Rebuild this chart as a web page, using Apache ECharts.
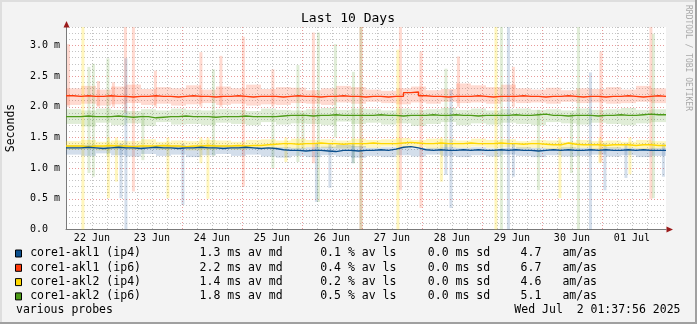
<!DOCTYPE html>
<html>
<head>
<meta charset="utf-8">
<script src="https://cdn.jsdelivr.net/npm/echarts@6.0.0/dist/echarts.min.js"></script>
<style>
  html, body { margin: 0; padding: 0; background: #f3f3f3; }
  #chart { width: 697px; height: 324px; }
</style>
</head>
<body>
<div id="chart"></div>
<script>
// Time axis in hours since 22 Jun 00:00; the window covers the last 10 days.
const START_H = 1.63;
const END_H = 241.63;
const MED_STEP_H = 3;    // median samples every 3 hours
const SMOKE_STEP_H = 6;  // smoke envelope every 6 hours

const dayLabels = ['22 Jun', '23 Jun', '24 Jun', '25 Jun', '26 Jun', '27 Jun', '28 Jun', '29 Jun', '30 Jun', '01 Jul'];
const yTickValues = [0, 0.5, 1.0, 1.5, 2.0, 2.5, 3.0];
const yTickLabels = ['0.0  ', '0.5 m', '1.0 m', '1.5 m', '2.0 m', '2.5 m', '3.0 m'];

const targets = ['core1-akl1 (ip4)', 'core1-akl1 (ip6)', 'core1-akl2 (ip4)', 'core1-akl2 (ip6)'];
const avgMedian = [1.3, 2.2, 1.4, 1.8];
const avgLoss = [0.1, 0.4, 0.2, 0.5];
const avgSd = [0.0, 0.0, 0.0, 0.0];
const amas = [4.7, 6.7, 4.6, 5.1];

// Median RTT (ms), one value per 3-hour step
const akl1v4Med = [
  1.33,1.33,1.34,1.33,1.32,1.33,1.34,1.33,1.33,1.32,
  1.33,1.34,1.33,1.33,1.32,1.33,1.33,1.34,1.33,1.33,
  1.32,1.33,1.33,1.34,1.33,1.32,1.33,1.32,1.30,1.29,
  1.29,1.28,1.29,1.29,1.28,1.27,1.29,1.29,1.28,1.29,
  1.29,1.30,1.29,1.31,1.34,1.35,1.33,1.30,1.29,1.30,
  1.29,1.29,1.30,1.29,1.30,1.29,1.29,1.30,1.29,1.30,
  1.29,1.29,1.28,1.29,1.30,1.29,1.30,1.29,1.29,1.30,
  1.29,1.30,1.29,1.29,1.30,1.29,1.30,1.29,1.29,1.29
];
const akl1v6Med = [
  2.18,2.17,2.18,2.17,2.17,2.18,2.17,2.17,2.16,2.17,
  2.17,2.18,2.17,2.17,2.16,2.17,2.18,2.17,2.17,2.16,
  2.17,2.17,2.18,2.17,2.16,2.17,2.17,2.17,2.16,2.17,
  2.18,2.17,2.17,2.16,2.17,2.17,2.18,2.17,2.17,2.16,
  2.17,2.17,2.16,2.17,2.17,2.23,2.24,2.18,2.17,2.17,
  2.16,2.17,2.17,2.17,2.18,2.17,2.16,2.17,2.17,2.17,
  2.18,2.17,2.17,2.16,2.17,2.17,2.18,2.17,2.16,2.17,
  2.17,2.16,2.17,2.17,2.18,2.17,2.16,2.17,2.18,2.17
];
const akl2v4Med = [
  1.36,1.36,1.35,1.36,1.36,1.37,1.36,1.36,1.35,1.36,
  1.36,1.36,1.37,1.36,1.36,1.35,1.36,1.36,1.37,1.36,
  1.36,1.36,1.37,1.36,1.37,1.37,1.38,1.39,1.40,1.40,
  1.39,1.40,1.40,1.41,1.40,1.40,1.39,1.40,1.40,1.40,
  1.41,1.40,1.40,1.40,1.41,1.42,1.41,1.40,1.40,1.41,
  1.40,1.40,1.40,1.41,1.40,1.40,1.40,1.41,1.40,1.40,
  1.39,1.40,1.40,1.39,1.38,1.38,1.41,1.39,1.38,1.38,
  1.38,1.37,1.38,1.38,1.38,1.37,1.38,1.38,1.37,1.37
];
const akl2v6Med = [
  1.84,1.84,1.85,1.84,1.84,1.84,1.85,1.84,1.83,1.84,
  1.84,1.82,1.83,1.84,1.84,1.85,1.84,1.84,1.84,1.83,
  1.84,1.84,1.84,1.85,1.84,1.84,1.84,1.84,1.85,1.86,
  1.86,1.86,1.85,1.86,1.86,1.87,1.86,1.86,1.86,1.86,
  1.86,1.87,1.86,1.86,1.85,1.86,1.86,1.86,1.87,1.86,
  1.86,1.87,1.86,1.86,1.85,1.86,1.86,1.86,1.86,1.87,
  1.86,1.86,1.87,1.88,1.86,1.86,1.85,1.86,1.86,1.86,
  1.85,1.86,1.86,1.87,1.86,1.86,1.87,1.88,1.87,1.87
];

// Smoke envelope (ms), low and high edge per 6-hour step
const akl1v4Lo = [1.22,1.20,1.24,1.21,1.19,1.23,1.20,1.22,1.18,1.21,1.23,1.20,1.22,1.19,1.17,1.20,1.18,1.21,1.19,1.17,1.20,1.18,1.21,1.19,1.22,1.20,1.18,1.21,1.19,1.22,1.20,1.18,1.21,1.19,1.20,1.22,1.19,1.21,1.18,1.20];
const akl1v4Hi = [1.37,1.38,1.36,1.38,1.37,1.36,1.38,1.37,1.36,1.38,1.37,1.36,1.34,1.33,1.34,1.33,1.34,1.35,1.38,1.36,1.33,1.34,1.33,1.32,1.33,1.34,1.33,1.34,1.32,1.33,1.34,1.33,1.32,1.34,1.33,1.32,1.34,1.33,1.32,1.33];
const akl1v6Lo = [2.03,2.05,2.02,2.04,2.06,2.03,2.05,2.02,2.04,2.06,2.03,2.05,2.02,2.04,2.03,2.06,2.05,2.03,2.07,2.05,2.08,2.06,2.04,2.07,2.05,2.08,2.06,2.07,2.05,2.08,2.06,2.07,2.05,2.08,2.06,2.07,2.05,2.06,2.08,2.06];
const akl1v6Hi = [2.30,2.34,2.28,2.33,2.36,2.29,2.32,2.30,2.35,2.28,2.33,2.30,2.36,2.29,2.32,2.31,2.27,2.30,2.34,2.32,2.28,2.26,2.30,2.33,2.27,2.29,2.38,2.35,2.32,2.36,2.30,2.28,2.31,2.27,2.30,2.29,2.32,2.28,2.34,2.30];
const akl2v4Lo = [1.30,1.31,1.29,1.31,1.30,1.32,1.30,1.31,1.29,1.30,1.31,1.30,1.32,1.31,1.33,1.32,1.34,1.33,1.32,1.34,1.33,1.35,1.33,1.34,1.32,1.34,1.33,1.35,1.33,1.34,1.32,1.33,1.31,1.32,1.33,1.31,1.32,1.33,1.31,1.32];
const akl2v4Hi = [1.44,1.46,1.43,1.45,1.44,1.47,1.43,1.45,1.44,1.46,1.45,1.43,1.46,1.47,1.45,1.48,1.46,1.47,1.45,1.48,1.46,1.47,1.49,1.46,1.48,1.47,1.45,1.48,1.46,1.47,1.44,1.46,1.45,1.43,1.46,1.44,1.45,1.43,1.46,1.44];
const akl2v6Lo = [1.72,1.68,1.74,1.70,1.73,1.69,1.75,1.71,1.72,1.70,1.74,1.72,1.70,1.75,1.71,1.73,1.72,1.70,1.76,1.72,1.74,1.71,1.73,1.69,1.72,1.75,1.70,1.73,1.71,1.74,1.72,1.70,1.75,1.73,1.71,1.74,1.72,1.70,1.73,1.75];
const akl2v6Hi = [1.96,1.94,1.97,1.95,1.93,1.96,1.94,1.97,1.95,1.94,1.96,1.95,1.93,1.97,1.95,1.94,1.96,1.98,1.95,1.97,1.96,1.94,1.97,1.95,1.96,1.98,1.95,1.97,1.94,1.96,1.97,1.95,1.96,1.94,1.97,1.95,1.96,1.98,1.95,1.96];

// Outlier pings: [hour, lowest ms, highest ms]
const akl1v4Spikes = [
  [23.6,0.51,1.4],[25.6,0,2.79],[48.4,0.40,1.4],[101.8,0.45,1.4],[107.2,0.68,1.4],
  [116.4,1.08,1.4],[153.6,0.89,1.4],[155.6,0.35,2.27],[178.6,0,3.3],[180.6,0.86,1.4],
  [211.4,0,2.56],[217.2,0.64,1.4],[225.6,0.84,1.4],[240.6,0.86,1.4]
];
const akl1v6Spikes = [
  [2.6,2.0,3.02],[14.6,2.0,2.42],[20.6,2.0,2.40],[25.4,1.9,3.3],[28.6,0.62,3.3],
  [37.4,2.0,2.59],[55.6,2.0,2.89],[63.6,2.0,2.83],[72.6,0.70,3.14],[84.4,2.0,2.61],
  [100.6,1.08,3.21],[119.6,0,3.3],[135.4,0.64,3.3],[143.6,0.35,2.90],[158.6,2.0,2.82],
  [180.6,2.0,2.65],[215.6,1.1,2.90],[235.6,0.5,3.3]
];
const akl2v4Spikes = [
  [8.4,0,3.3],[18.6,0.51,1.5],[21.8,0.78,1.5],[42.4,0.51,1.5],[55.6,1.08,1.5],
  [58.4,0.5,1.5],[89.6,1.1,1.5],[134.4,0,2.93],[151.8,0.78,1.5],[173.6,0,3.3],
  [199.2,0.51,1.5],[215.2,1.08,1.5],[227.2,0.9,1.5]
];
const akl2v6Spikes = [
  [10.8,0.92,2.65],[12.6,0.86,2.70],[18.4,1.2,2.79],[32.4,1.13,1.9],[60.6,1.2,2.61],
  [84.4,1.0,1.9],[94.4,1.1,2.68],[96.4,1.3,1.9],[102.6,0.45,3.21],[109.4,1.5,3.02],
  [116.6,1.08,2.57],[119.6,0,3.3],[153.6,1.3,2.62],[175.8,0,3.3],[190.6,0.64,1.95],
  [203.8,0.92,1.9],[206.6,0,3.3],[236.6,0.51,3.19]
];

const lineColors = ['#0b4f8e', '#ff3a0a', '#ffd800', '#4c9a16'];
const smokeColors = ['rgba(20,80,150,0.19)', 'rgba(255,80,40,0.21)', 'rgba(255,220,0,0.26)', 'rgba(90,160,40,0.19)'];

const FONT = '"DejaVu Sans Mono", monospace';

// Grid line positions (hours)
const minorHours = [];
for (let h = 6; h < END_H; h += 6) if (h > START_H) minorHours.push(h);
const majorHours = [];
for (let h = 24; h < END_H; h += 24) majorHours.push(h);
const labelHours = dayLabels.map((_, i) => 12 + 24 * i);

function medianData(vals) {
  const d = vals.map((v, i) => [START_H + MED_STEP_H * i, v]);
  d.push([END_H, vals[vals.length - 1]]);
  return d;
}
function smokeData(lo, hi) {
  return lo.map((v, i) => [START_H + SMOKE_STEP_H * i, START_H + SMOKE_STEP_H * (i + 1), v, hi[i]]);
}
function spikeData(list) {
  return list.map(s => [s[0] - 0.6, s[0] + 0.6, s[1], s[2]]);
}
function rectRenderer(color) {
  return function (params, api) {
    const p0 = api.coord([api.value(0), api.value(3)]);
    const p1 = api.coord([api.value(1), api.value(2)]);
    const cs = params.coordSys;
    const shape = echarts.graphic.clipRectByRect(
      { x: p0[0], y: p0[1], width: p1[0] - p0[0], height: p1[1] - p0[1] },
      { x: cs.x, y: cs.y, width: cs.width, height: cs.height }
    );
    return shape && { type: 'rect', shape: shape, style: { fill: color } };
  };
}

const meds = [akl1v4Med, akl1v6Med, akl2v4Med, akl2v6Med];
const los = [akl1v4Lo, akl1v6Lo, akl2v4Lo, akl2v6Lo];
const his = [akl1v4Hi, akl1v6Hi, akl2v4Hi, akl2v6Hi];
const spikes = [akl1v4Spikes, akl1v6Spikes, akl2v4Spikes, akl2v6Spikes];

const series = [];
[1, 3, 2, 0].forEach(k => {
  series.push({
    type: 'custom', name: targets[k] + ' smoke', silent: true, z: 1,
    renderItem: rectRenderer(smokeColors[k]),
    encode: { x: [0, 1], y: [2, 3] },
    data: smokeData(los[k], his[k])
  });
  series.push({
    type: 'custom', name: targets[k] + ' outliers', silent: true, z: 1,
    renderItem: rectRenderer(smokeColors[k]),
    encode: { x: [0, 1], y: [2, 3] },
    data: spikeData(spikes[k])
  });
});
[1, 3, 2, 0].forEach(k => {
  series.push({
    type: 'line', name: targets[k], step: 'end', symbol: 'none', silent: true, z: 3,
    lineStyle: { color: lineColors[k], width: 1.4 },
    data: medianData(meds[k])
  });
});

// Legend block
const legendRowsY = [253.5, 267.8, 282.1, 296.4];
const graphic = [];
targets.forEach((name, k) => {
  const y = legendRowsY[k];
  graphic.push({ type: 'rect', shape: { x: 15.5, y: y - 3.5, width: 6, height: 7 },
    style: { fill: lineColors[k], stroke: '#000', lineWidth: 1 } });
  const cols = [
    [30.2, name],
    [199.6, avgMedian[k].toFixed(1) + ' ms av md'],
    [320.2, avgLoss[k].toFixed(1) + ' % av ls'],
    [427.8, avgSd[k].toFixed(1) + ' ms sd'],
    [520.6, amas[k].toFixed(1)],
    [562.4, 'am/as']
  ];
  cols.forEach(c => graphic.push({ type: 'text', x: c[0], y: y,
    style: { text: c[1], font: '11.5px ' + FONT, fill: '#000', textAlign: 'left', textVerticalAlign: 'middle' } }));
});
graphic.push({ type: 'text', x: 16, y: 310.5,
  style: { text: 'various probes', font: '11.5px ' + FONT, fill: '#000', textAlign: 'left', textVerticalAlign: 'middle' } });
graphic.push({ type: 'text', x: 680.5, y: 310.5,
  style: { text: 'Wed Jul  2 01:37:56 2025', font: '11.5px ' + FONT, fill: '#000', textAlign: 'right', textVerticalAlign: 'middle' } });
// Title, axis name, watermark
graphic.push({ type: 'text', x: 348, y: 18.5,
  style: { text: 'Last 10 Days', font: '13px ' + FONT, fill: '#000', textAlign: 'center', textVerticalAlign: 'middle' } });
graphic.push({ type: 'text', x: 11, y: 128, rotation: Math.PI / 2,
  style: { text: 'Seconds', font: '11.5px ' + FONT, fill: '#000', textAlign: 'center', textVerticalAlign: 'middle' } });
graphic.push({ type: 'text', x: 688, y: 5, rotation: -Math.PI / 2,
  style: { text: 'RRDTOOL / TOBI OETIKER', font: '8px ' + FONT, fill: '#a8a8a8', textAlign: 'left', textVerticalAlign: 'middle' } });
// Axis arrow heads
graphic.push({ type: 'polygon', shape: { points: [[66.5, 21], [63.5, 27.5], [69.5, 27.5]] }, style: { fill: '#9b1b1b' }, z: 10 });
graphic.push({ type: 'polygon', shape: { points: [[673, 229.5], [666.5, 226.5], [666.5, 232.5]] }, style: { fill: '#9b1b1b' }, z: 10 });
// Frame
graphic.push({ type: 'rect', shape: { x: 0, y: 0, width: 697, height: 2 }, style: { fill: '#dedede' }, z: 10 });
graphic.push({ type: 'rect', shape: { x: 0, y: 0, width: 2, height: 324 }, style: { fill: '#dedede' }, z: 10 });
graphic.push({ type: 'rect', shape: { x: 695, y: 0, width: 2, height: 324 }, style: { fill: '#a0a0a0' }, z: 10 });
graphic.push({ type: 'rect', shape: { x: 0, y: 322, width: 697, height: 2 }, style: { fill: '#a0a0a0' }, z: 10 });

const chart = echarts.init(document.getElementById('chart'), null, { renderer: 'canvas' });
chart.setOption({
  backgroundColor: '#f3f3f3',
  animation: false,
  grid: { left: 66, top: 27, width: 600, height: 202.5, show: true, backgroundColor: '#ffffff',
          borderWidth: 0, containLabel: false, outerBoundsMode: 'none' },
  xAxis: [
    {
      type: 'value', min: START_H, max: END_H, position: 'bottom',
      axisLine: { show: true, lineStyle: { color: '#7a7a7a', width: 1 } },
      axisTick: { show: false, customValues: minorHours },
      splitLine: { show: true, showMinLine: false, showMaxLine: false,
                   lineStyle: { color: '#c4c4c4', width: 1, type: [1, 2] } },
      axisLabel: { customValues: labelHours, margin: 4, color: '#000', fontFamily: FONT, fontSize: 10,
                   formatter: v => dayLabels[Math.round((v - 12) / 24)] }
    },
    {
      type: 'value', min: START_H, max: END_H, position: 'top', show: true,
      axisLine: { show: false }, axisLabel: { show: false },
      axisTick: { show: false, customValues: majorHours },
      splitLine: { show: true, showMinLine: false, showMaxLine: false,
                   lineStyle: { color: '#e89a9a', width: 1, type: [1, 2] } }
    }
  ],
  yAxis: [
    {
      type: 'value', min: 0, max: 3.3, interval: 0.1, position: 'left',
      axisLine: { show: true, lineStyle: { color: '#7a7a7a', width: 1 } },
      axisTick: { show: false }, axisLabel: { show: false },
      splitLine: { show: true, showMinLine: false, lineStyle: { color: '#c4c4c4', width: 1, type: [1, 2] } }
    },
    {
      type: 'value', min: 0, max: 3.3, position: 'left',
      axisLine: { show: false },
      axisTick: { show: false, customValues: yTickValues },
      splitLine: { show: true, showMinLine: false, lineStyle: { color: '#e89a9a', width: 1, type: [1, 2] } },
      axisLabel: { customValues: yTickValues, margin: 6, color: '#000', fontFamily: FONT, fontSize: 10,
                   formatter: v => yTickLabels[yTickValues.indexOf(Math.round(v * 10) / 10)] }
    }
  ],
  series: series,
  graphic: graphic
});
</script>
</body>
</html>
